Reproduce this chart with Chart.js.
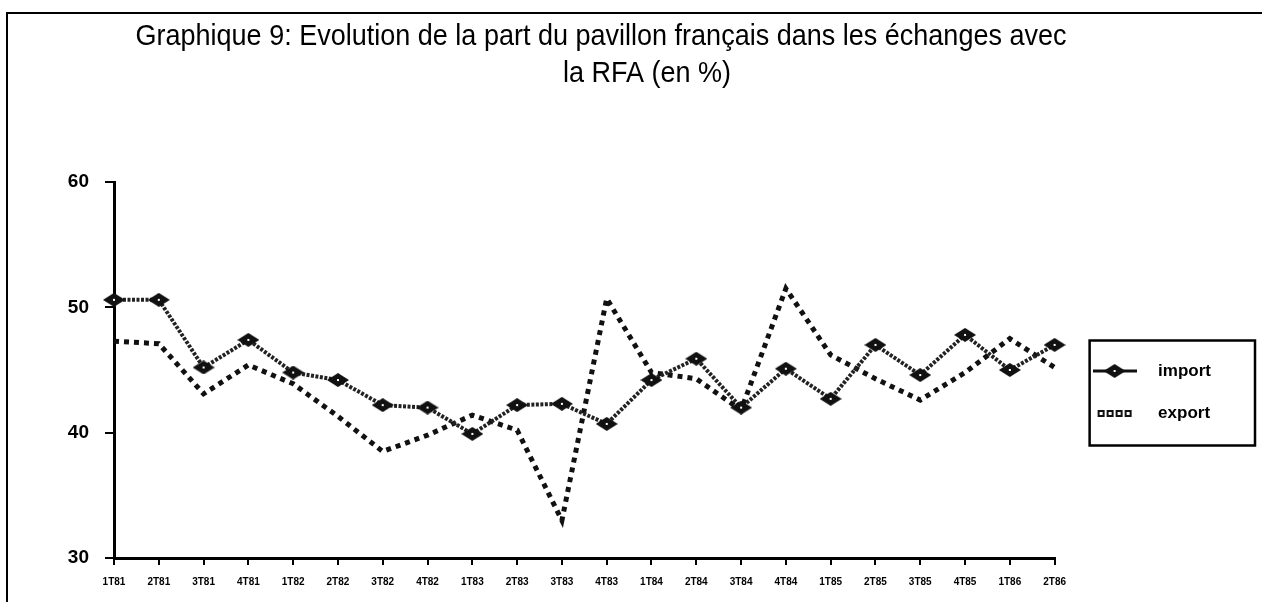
<!DOCTYPE html>
<html>
<head>
<meta charset="utf-8">
<script src="https://cdn.jsdelivr.net/npm/chart.js@4.4.1/dist/chart.umd.min.js"></script>
<style>
  body { margin: 0; background: #fff; }
  canvas { display: block; }
</style>
</head>
<body>
<canvas id="chart" width="1262" height="602"></canvas>
<script>
// quarters 1981 - 1986
const quarters = ['1T81','2T81','3T81','4T81','1T82','2T82','3T82','4T82','1T83','2T83','3T83',
                  '4T83','1T84','2T84','3T84','4T84','1T85','2T85','3T85','4T85','1T86','2T86'];
const importShare = [50.6, 50.6, 45.2, 47.4, 44.8, 44.2, 42.2, 42.0, 39.9, 42.2, 42.3,
                     40.7, 44.2, 45.9, 42.0, 45.1, 42.7, 47.0, 44.6, 47.8, 45.0, 47.0];
const exportShare = [47.3, 47.1, 43.1, 45.4, 43.9, 41.3, 38.5, 39.8, 41.4, 40.2, 33.0,
                     50.7, 44.8, 44.3, 41.8, 51.5, 46.2, 44.3, 42.6, 44.8, 47.5, 45.2];
const yTicks = [30, 40, 50, 60];
const titleLines = ['Graphique 9: Evolution de la part du pavillon français dans les échanges avec',
                    'la RFA (en %)'];

function makeCanvas(w, h, draw) {
  const c = document.createElement('canvas');
  c.width = w; c.height = h;
  draw(c.getContext('2d'), w, h);
  return c;
}

// flat black diamond used for the import points
const diamond = makeCanvas(22, 14, (ctx, w, h) => {
  ctx.fillStyle = '#111';
  ctx.beginPath();
  ctx.moveTo(0, h / 2); ctx.lineTo(w / 2, 0); ctx.lineTo(w, h / 2); ctx.lineTo(w / 2, h);
  ctx.closePath(); ctx.fill();
  ctx.fillStyle = '#fff';
  ctx.fillRect(w / 2 - 1, h / 2 - 1, 2, 2);
});

// legend symbols
const importSymbol = makeCanvas(44, 16, (ctx, w, h) => {
  ctx.strokeStyle = '#111'; ctx.lineWidth = 3;
  ctx.beginPath(); ctx.moveTo(0, h / 2); ctx.lineTo(w, h / 2); ctx.stroke();
  ctx.drawImage(diamond, (w - 22) / 2, (h - 14) / 2);
});
const exportSymbol = makeCanvas(36, 8, (ctx, w, h) => {
  ctx.strokeStyle = '#111'; ctx.lineWidth = 2;
  for (let i = 0; i < 4; i++) ctx.strokeRect(2 + i * 9, 2, 5, 5);
});

const titlePlugin = {
  id: 'twoLineTitle',
  afterDraw(chart) {
    const ctx = chart.ctx;
    ctx.save();
    ctx.fillStyle = '#000';
    ctx.font = "30px 'Liberation Sans', Arial, sans-serif";
    ctx.textAlign = 'center';
    ctx.textBaseline = 'middle';
    const sx = 931 / ctx.measureText(titleLines[0]).width;
    [[601, 37], [647, 74]].forEach(([x, y], i) => {
      ctx.save();
      ctx.translate(x, y);
      ctx.scale(sx, 1);
      ctx.fillText(titleLines[i], 0, 0);
      ctx.restore();
    });
    // page frame
    ctx.strokeStyle = '#000';
    ctx.lineWidth = 2;
    ctx.beginPath();
    ctx.moveTo(7, 602); ctx.lineTo(7, 13); ctx.lineTo(1262, 13);
    ctx.stroke();
    // legend box
    const lg = chart.legend;
    if (lg && lg.legendHitBoxes.length) {
      const hb = lg.legendHitBoxes;
      const x0 = hb[0].left + 10;
      const y0 = hb[0].top - 22;
      const y1 = hb[hb.length - 1].top + hb[hb.length - 1].height + 24;
      ctx.lineWidth = 2.5;
      ctx.strokeRect(x0, y0, 1255 - x0, y1 - y0);
    }
    ctx.restore();
  }
};

new Chart(document.getElementById('chart'), {
  type: 'line',
  data: {
    labels: quarters,
    datasets: [{
      label: 'import',
      data: importShare,
      borderColor: '#222',
      borderWidth: 4,
      borderDash: [3, 1.5],
      pointStyle: diamond,
      clip: false
    }, {
      label: 'export',
      data: exportShare,
      borderColor: '#111',
      borderWidth: 5,
      borderDash: [5, 5],
      pointRadius: 0,
      clip: false
    }]
  },
  options: {
    responsive: false,
    animation: false,
    events: [],
    layout: { padding: { left: 14, top: 182, right: 41, bottom: 0 } },
    scales: {
      x: {
        offset: false,
        afterFit: s => { s.height = 44; },
        ticks: { color: '#000', font: { family: 'Arial', size: 10, weight: 'bold' }, maxRotation: 0, autoSkip: false, padding: 11 },
        grid: { drawOnChartArea: false, color: '#000', lineWidth: 2, tickLength: 7 },
        border: { color: '#000', width: 3 }
      },
      y: {
        min: 30, max: 60,
        afterFit: s => { s.width = 100; },
        afterBuildTicks: s => { s.ticks = yTicks.map(v => ({ value: v })); },
        ticks: { color: '#000', font: { family: 'Arial', size: 19, weight: 'bold' }, padding: 16 },
        grid: { drawOnChartArea: false, color: '#000', lineWidth: 2, tickLength: 9 },
        border: { color: '#000', width: 3 }
      }
    },
    plugins: {
      title: { display: false },
      tooltip: { enabled: false },
      legend: {
        position: 'right',
        maxWidth: 207,
        labels: {
          color: '#000',
          font: { family: 'Arial', size: 17, weight: 'bold' },
          usePointStyle: true,
          pointStyleWidth: 70,
          padding: 25,
          generateLabels: chart => Chart.defaults.plugins.legend.labels.generateLabels(chart)
            .map((item, i) => Object.assign(item, { pointStyle: i === 0 ? importSymbol : exportSymbol }))
        }
      }
    }
  },
  plugins: [titlePlugin]
});
</script>
</body>
</html>
